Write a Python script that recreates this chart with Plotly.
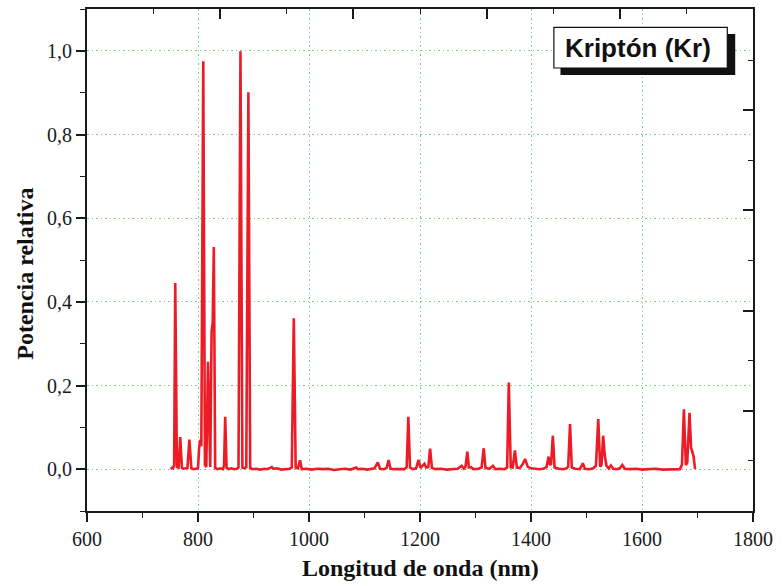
import plotly.graph_objects as go

# Krypton emission spectrum: wavelength (nm) and relative power
wavelength_nm = [
    751, 753, 755, 757, 759, 762, 765, 768, 771, 774, 778, 781, 784.5, 788, 792,
    796, 800, 802, 804, 806, 809.5, 812.5, 815, 818, 821, 822, 824.5, 826.5,
    828.5, 831, 835, 840, 845, 847, 849, 851.5, 855, 860, 865, 870, 873, 876.5,
    880, 884, 887, 890.8, 894, 898, 905, 912, 920, 925, 930, 933, 936, 942, 950,
    958, 965, 969, 972.6, 976, 980, 983.8, 987, 995, 1005, 1015, 1025, 1035,
    1045, 1055, 1065, 1075, 1082, 1085, 1088, 1095, 1105, 1112, 1118, 1123.9,
    1128, 1135, 1140, 1143.4, 1147, 1155, 1165, 1172, 1176, 1179, 1182, 1187,
    1193, 1197.4, 1201, 1205, 1208, 1211, 1215, 1218.2, 1221.5, 1228, 1238,
    1248, 1258, 1268, 1275, 1279, 1282, 1285.3, 1288, 1292, 1296, 1305, 1311,
    1314.8, 1318, 1325, 1331.5, 1336, 1345, 1352, 1357, 1360, 1363.5, 1367,
    1371, 1374.5, 1380, 1385, 1389.5, 1394, 1400, 1407, 1415, 1422, 1428,
    1431.7, 1434, 1436, 1439.4, 1442.5, 1450, 1458, 1464, 1467, 1470.3, 1473.5,
    1480, 1488, 1493.4, 1497, 1505, 1512, 1517, 1521.2, 1524.5, 1527, 1530,
    1533, 1536, 1540, 1544, 1548, 1555, 1560, 1564.6, 1569, 1578, 1590, 1600,
    1612, 1625, 1638, 1650, 1660, 1668, 1672, 1675.5, 1679, 1681.5, 1685.6,
    1688.5, 1690.2, 1693, 1695.6,
]
relative_power = [
    0.0, 0.003, 0.002, 0.01, 0.445, 0.005, 0.004, 0.077, 0.003, 0.001, 0.002,
    0.003, 0.071, 0.002, 0.0, 0.001, 0.002, 0.05, 0.07, 0.055, 0.975, 0.01,
    0.005, 0.257, 0.01, 0.005, 0.33, 0.35, 0.531, 0.003, 0.0, 0.002, 0.0, 0.01,
    0.125, 0.003, 0.0, 0.002, 0.0, 0.001, 0.004, 0.999, 0.004, 0.002, 0.005,
    0.901, 0.003, 0.0, 0.001, -0.001, 0.001, 0.0, 0.003, 0.005, 0.001, 0.002,
    -0.001, 0.0, 0.001, 0.004, 0.361, 0.004, 0.002, 0.021, 0.0, 0.001, -0.001,
    0.001, 0.0, 0.001, -0.002, 0.0, 0.001, -0.001, 0.002, 0.004, 0.0, 0.001,
    -0.001, 0.0, 0.002, 0.016, 0.001, 0.0, 0.003, 0.022, 0.001, 0.0, 0.001,
    0.0, 0.005, 0.125, 0.004, 0.0, 0.002, 0.022, 0.003, 0.008, 0.013, 0.004,
    0.005, 0.049, 0.003, 0.0, 0.001, -0.001, 0.0, 0.001, 0.008, 0.001, 0.006,
    0.042, 0.004, 0.005, 0.0, 0.001, 0.004, 0.05, 0.003, 0.001, 0.008, 0.0,
    0.001, 0.0, 0.004, 0.207, 0.005, 0.004, 0.045, 0.004, 0.003, 0.012, 0.024,
    0.006, 0.002, 0.001, 0.0, 0.001, 0.005, 0.03, 0.012, 0.01, 0.08, 0.004,
    0.001, 0.0, 0.002, 0.006, 0.108, 0.004, 0.001, 0.0, 0.014, 0.001, 0.0,
    0.002, 0.008, 0.12, 0.006, 0.01, 0.08, 0.032, 0.008, 0.002, 0.009, 0.001,
    0.0, 0.002, 0.01, 0.001, 0.0, 0.001, -0.001, 0.0, 0.001, -0.001, 0.0,
    0.001, 0.0, 0.01, 0.143, 0.01, 0.015, 0.135, 0.05, 0.044, 0.03, 0.0,
]

x_tick_values = [600, 800, 1000, 1200, 1400, 1600, 1800]
y_tick_values = [0.0, 0.2, 0.4, 0.6, 0.8, 1.0]

GRID = "#74d084"
INK = "#1a1a1a"
SERIF = "Liberation Serif, Times New Roman, serif"

fig = go.Figure()
fig.add_trace(go.Scatter(
    x=wavelength_nm, y=relative_power, mode="lines",
    line=dict(color="#ec1c27", width=2.6),
    hoverinfo="x+y", showlegend=False,
))
# empty trace so the top/right frame axes carry their own tick sets
fig.add_trace(go.Scatter(x=[], y=[], xaxis="x2", yaxis="y2",
                         showlegend=False, hoverinfo="skip"))

fig.update_layout(
    width=782, height=586,
    margin=dict(l=87, r=22, t=9, b=75, pad=0),
    paper_bgcolor="white", plot_bgcolor="white",
    separators=",.",
    xaxis=dict(
        range=[600, 1800], tickvals=x_tick_values, tickformat="d",
        ticks="outside", ticklen=9, tickwidth=1.6, tickcolor=INK,
        minor=dict(dtick=100, tick0=600, ticks="outside", ticklen=5,
                   tickwidth=1.4, tickcolor=INK, showgrid=False),
        showline=True, linecolor=INK, linewidth=2,
        showgrid=True, gridcolor=GRID, griddash="1.5px,3px", gridwidth=1.3,
        zeroline=False,
        tickfont=dict(family=SERIF, size=20, color=INK),
    ),
    yaxis=dict(
        range=[-0.1, 1.1], tickvals=y_tick_values, tickformat=".1f",
        ticks="outside", ticklen=9, tickwidth=1.6, tickcolor=INK,
        minor=dict(dtick=0.1, tick0=0, ticks="outside", ticklen=5,
                   tickwidth=1.4, tickcolor=INK, showgrid=False),
        showline=True, linecolor=INK, linewidth=2,
        showgrid=True, gridcolor=GRID, griddash="1.5px,3px", gridwidth=1.3,
        zeroline=False,
        tickfont=dict(family=SERIF, size=20, color=INK),
    ),
    xaxis2=dict(
        overlaying="x", side="top", anchor="y", range=[0, 10],
        dtick=2, tick0=0, ticks="inside", ticklen=10, tickwidth=1.6,
        tickcolor=INK, showticklabels=False, showgrid=False, zeroline=False,
        minor=dict(dtick=1, ticks="inside", ticklen=5, tickwidth=1.4,
                   tickcolor=INK, showgrid=False),
        showline=True, linecolor=INK, linewidth=2,
    ),
    yaxis2=dict(
        overlaying="y", side="right", anchor="x", range=[0, 5.01],
        dtick=1, tick0=0, ticks="inside", ticklen=10, tickwidth=1.6,
        tickcolor=INK, showticklabels=False, showgrid=False, zeroline=False,
        minor=dict(dtick=0.5, ticks="inside", ticklen=5, tickwidth=1.4,
                   tickcolor=INK, showgrid=False),
        showline=True, linecolor=INK, linewidth=2,
    ),
    shapes=[
        # drop shadow behind the element label
        dict(type="rect", xref="paper", yref="paper",
             x0=0.7109, x1=0.9733, y0=0.8685, y1=0.9502,
             fillcolor="#111111", line=dict(width=0), layer="above"),
        dict(type="rect", xref="paper", yref="paper",
             x0=0.701, x1=0.9614, y0=0.8825, y1=0.9635,
             fillcolor="white", line=dict(color="#111111", width=1.2),
             layer="above"),
    ],
    annotations=[
        dict(text="<b>Kriptón (Kr)</b>", xref="paper", yref="paper",
             x=0.8275, y=0.923, xanchor="center", yanchor="middle",
             showarrow=False,
             font=dict(family="Liberation Sans, Arial, sans-serif",
                       size=26, color="#111111")),
        dict(text="<b>Longitud de onda (nm)</b>", xref="paper", yref="paper",
             x=0.5, y=-0.1135, xanchor="center", yanchor="middle",
             showarrow=False,
             font=dict(family=SERIF, size=24, color="#111111")),
        dict(text="<b>Potencia relativa</b>", xref="paper", yref="paper",
             x=-0.0943, y=0.473, xanchor="center", yanchor="middle",
             textangle=-90, showarrow=False,
             font=dict(family=SERIF, size=24, color="#111111")),
    ],
)

fig.write_html("out.html")
